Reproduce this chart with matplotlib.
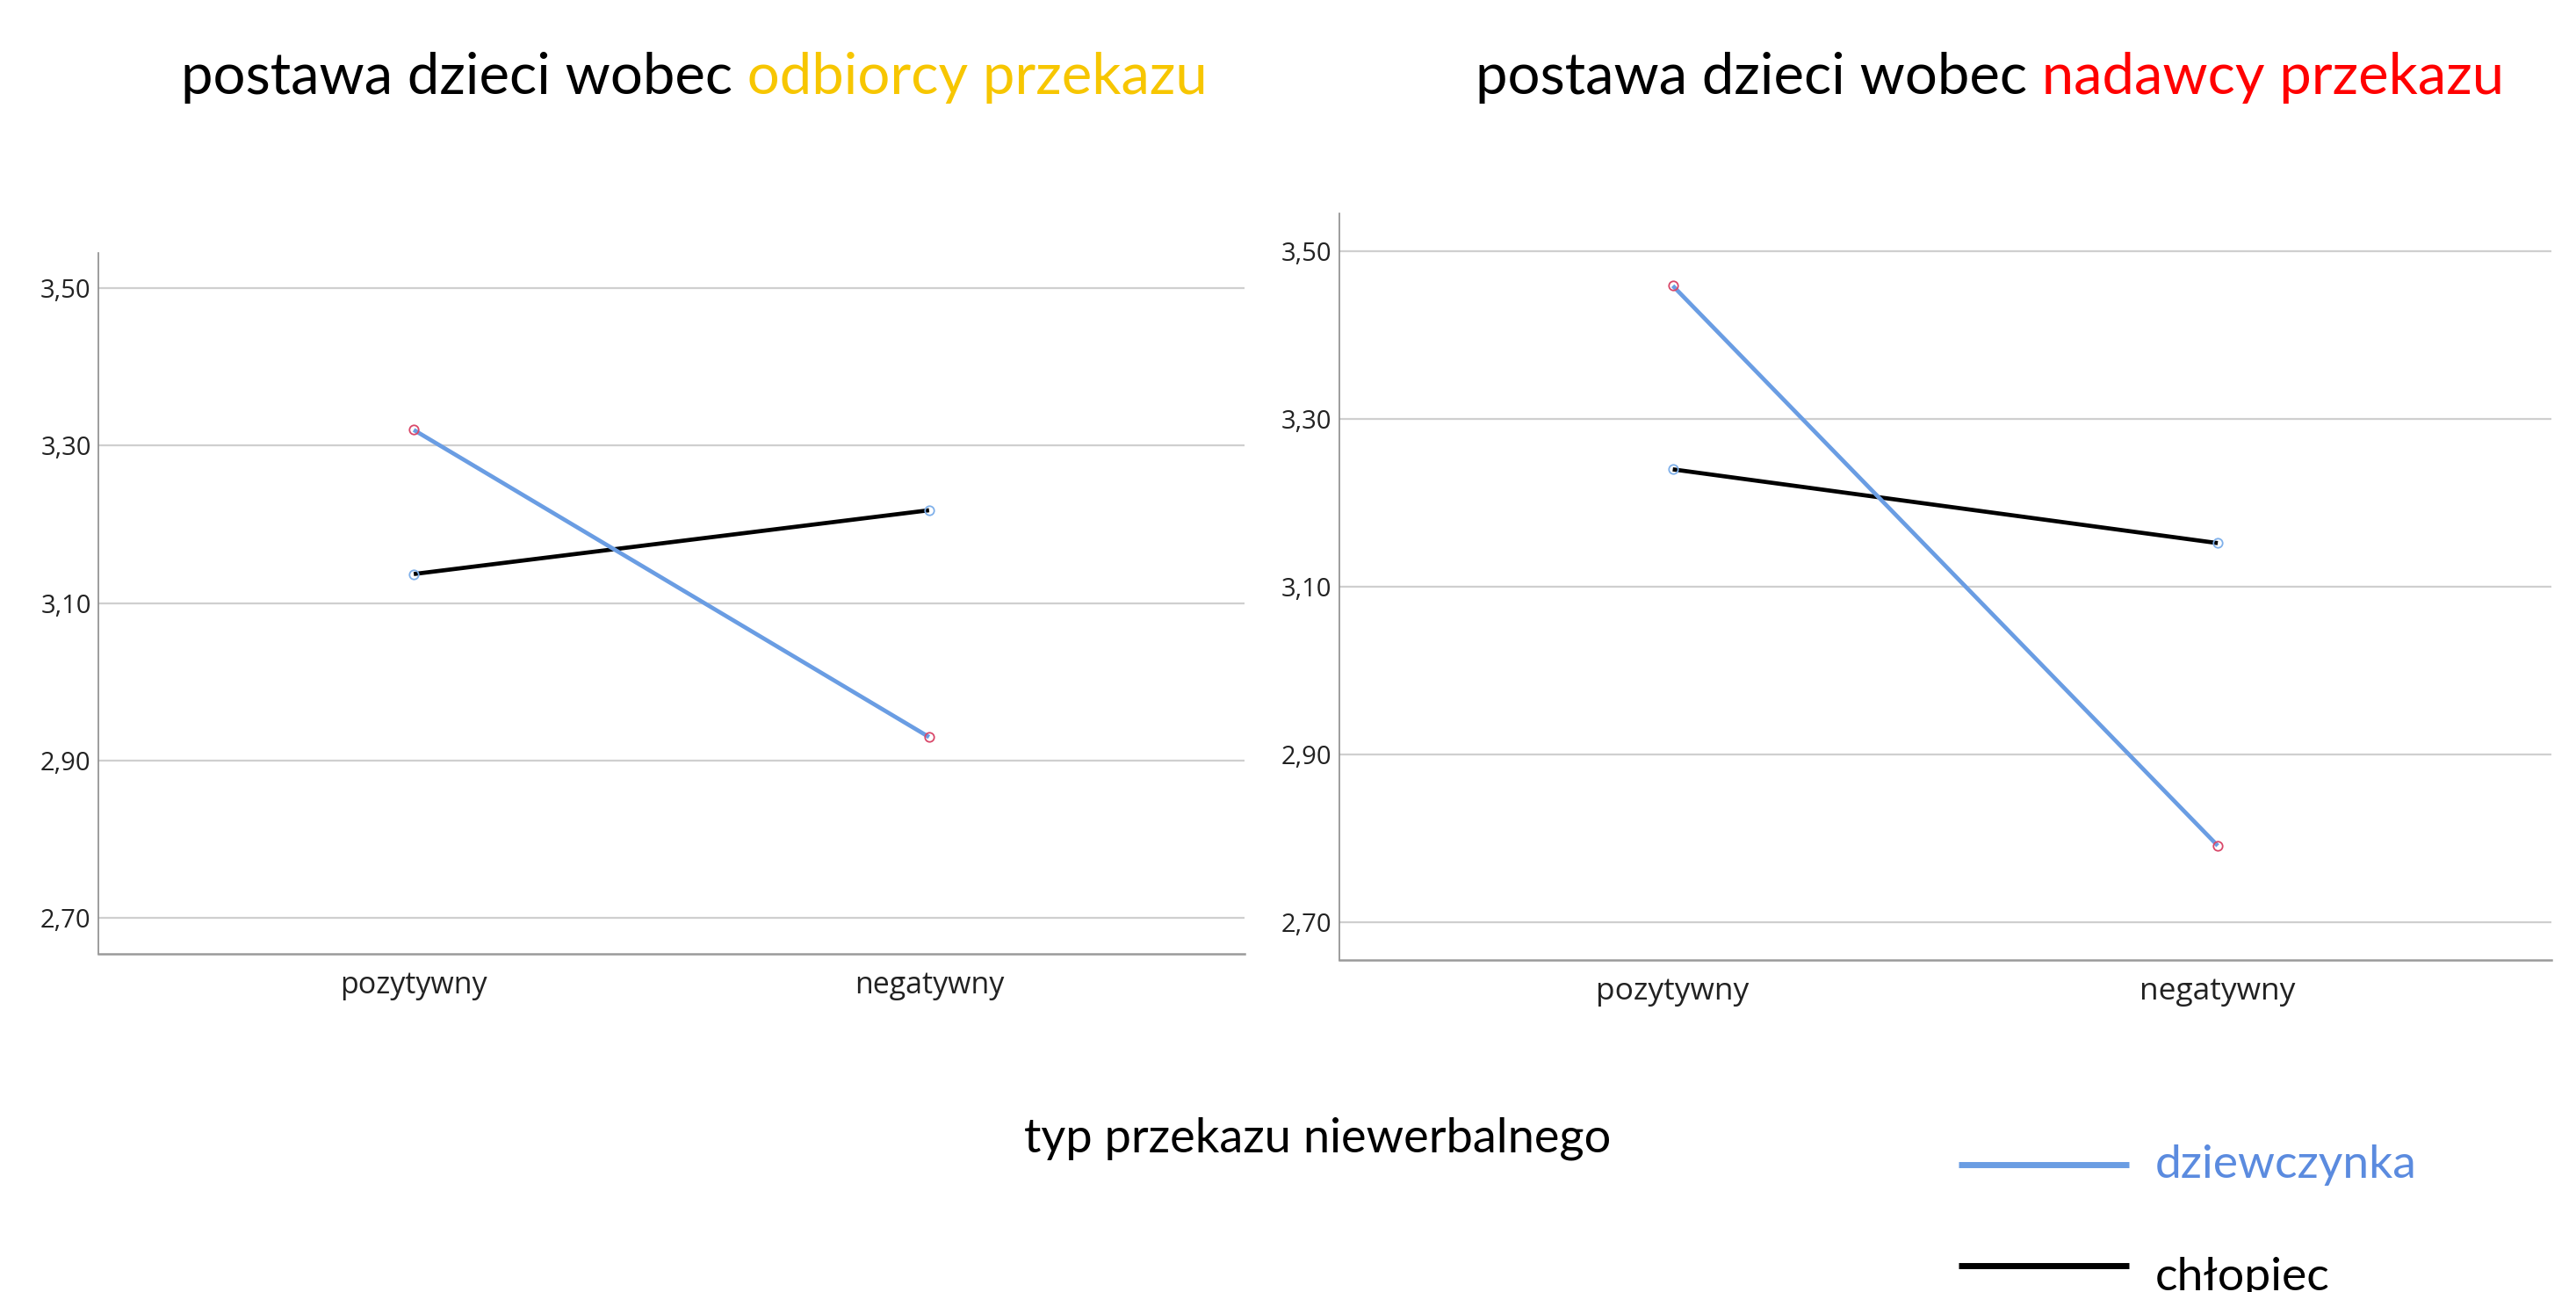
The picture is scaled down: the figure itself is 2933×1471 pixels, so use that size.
import matplotlib
matplotlib.use("Agg")
import matplotlib.pyplot as plt
import matplotlib.ticker as mticker

plt.rcParams['font.family'] = ['Open Sans', 'DejaVu Sans']

# data
categories = ['pozytywny', 'negatywny']
odbiorca_dziewczynka = [3.320, 2.930]
odbiorca_chlopiec = [3.137, 3.218]
nadawca_dziewczynka = [3.459, 2.791]
nadawca_chlopiec = [3.240, 3.152]
y_ticks = [2.70, 2.90, 3.10, 3.30, 3.50]
legend_labels = ['dziewczynka', 'chłopiec']

BLUE = '#6a9de3'
BLACK = '#000000'
MARK_RED = '#d9486a'
MARK_BLUE = '#7fb0ea'
TITLE_FONT = ['Lato', 'DejaVu Sans']
W, H = 2933, 1471

fig = plt.figure(figsize=(W / 100, H / 100), dpi=100)
ax_l = fig.add_axes([0.0382, 0.2619, 0.4449, 0.5425])
ax_r = fig.add_axes([0.5199, 0.2572, 0.4705, 0.5774])


def draw_panel(ax, girls, boys, xlab_size):
    x = list(range(len(categories)))
    ax.plot(x, boys, color=BLACK, lw=3.4, solid_capstyle='butt', zorder=3)
    ax.plot(x, girls, color=BLUE, lw=3.4, solid_capstyle='butt', zorder=4)
    ax.plot(x, boys, ls='none', marker='o', ms=7.5, mfc='none', mec=MARK_BLUE, mew=1.3, zorder=5)
    ax.plot(x, girls, ls='none', marker='o', ms=7.5, mfc='none', mec=MARK_RED, mew=1.3, zorder=5)

    ax.set_xlim(-0.612, 1.612)
    ax.set_ylim(2.655, 3.545)
    ax.set_xticks(x)
    ax.set_xticklabels(categories)
    ax.set_yticks(y_ticks)
    ax.yaxis.set_major_formatter(mticker.FuncFormatter(lambda v, _: f'{v:.2f}'.replace('.', ',')))
    ax.grid(axis='y', color='#cfcfcf', lw=1.6, zorder=1)
    ax.set_axisbelow(True)
    for side in ('top', 'right'):
        ax.spines[side].set_visible(False)
    ax.spines['left'].set_color('#8c8c8c')
    ax.spines['bottom'].set_color('#9a9a9a')
    ax.spines['left'].set_linewidth(1.2)
    ax.spines['bottom'].set_linewidth(1.8)
    ax.tick_params(axis='both', length=0, colors='#222222')
    ax.tick_params(axis='y', pad=6, labelsize=21)
    ax.tick_params(axis='x', pad=14, labelsize=xlab_size)


draw_panel(ax_l, odbiorca_dziewczynka, odbiorca_chlopiec, 24.5)
draw_panel(ax_r, nadawca_dziewczynka, nadawca_chlopiec, 25.5)

# two-colour titles: black part, then the coloured part right after it
fig.canvas.draw()
renderer = fig.canvas.get_renderer()
for x0, second, color in [(206 / W, 'odbiorcy przekazu', '#f7c600'),
                          (1680 / W, 'nadawcy przekazu', '#ff0000')]:
    y0 = 1 - 107 / H
    t1 = fig.text(x0, y0, 'postawa dzieci wobec', fontsize=47, family=TITLE_FONT,
                  color='black', ha='left', va='baseline')
    bb = t1.get_window_extent(renderer)
    fig.text(bb.x1 / fig.bbox.width, y0, '\u00a0' + second, fontsize=47, family=TITLE_FONT,
             color=color, ha='left', va='baseline')

fig.text(1500 / W, 1 - 1296 / H, 'typ przekazu niewerbalnego', fontsize=39,
         family=TITLE_FONT, color='black', ha='center', va='center')

# legend drawn by hand in figure space
legend_colors = [BLUE, BLACK]
legend_text_colors = ['#5b8bdf', '#000000']
legend_line_y = [1 - 1326 / H, 1 - 1441 / H]
legend_text_y = [1 - 1326 / H, 1 - 1455 / H]
for lab, c, tc, ly, ty in zip(legend_labels, legend_colors, legend_text_colors,
                              legend_line_y, legend_text_y):
    fig.add_artist(plt.Line2D([2230 / W, 2424 / W], [ly, ly], color=c, lw=5,
                              transform=fig.transFigure, solid_capstyle='butt'))
    fig.text(2454 / W, ty, lab, fontsize=38.5, family=TITLE_FONT, color=tc,
             ha='left', va='center')

fig.savefig('out.png', dpi=100)
